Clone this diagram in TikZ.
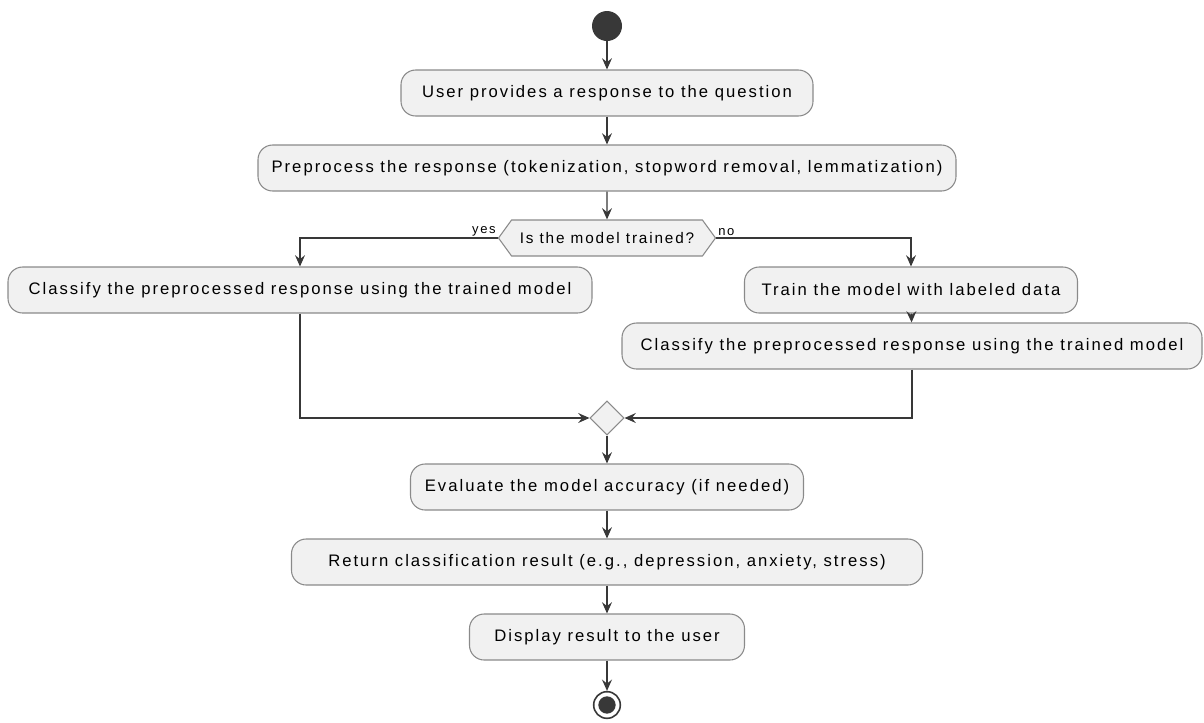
\documentclass[tikz,border=0pt]{standalone}
\usepackage{fontspec}
\setmainfont{Liberation Sans}[LetterSpace=12]
\usetikzlibrary{arrows.meta,shapes.symbols,shapes.geometric}
\definecolor{mfill}{HTML}{F1F1F1}
\definecolor{mline}{HTML}{383838}
\definecolor{mborder}{HTML}{8A8A8A}

\begin{document}
\begin{tikzpicture}[x=0.75pt,y=-0.75pt,
    act/.style={draw=mborder, fill=mfill, line width=0.8pt, rounded corners=11pt,
        minimum height=34.5pt, inner xsep=0pt, font=\fontsize{12.5}{14}\selectfont},
    boxw/.style={minimum width=#1*0.75pt},
    flow/.style={draw=mline, line width=0.9pt, -{Stealth[length=8.5pt,width=7.5pt,inset=3pt]}},
    lbl/.style={font=\fontsize{9.75}{11}\selectfont, inner sep=1.5pt}]
    \useasboundingbox (0,0) rectangle (1204,722);
    \node[circle, fill=mline, minimum size=22.5pt, inner sep=0pt] (start) at (607,26) {};
    \node[act, boxw=412] (provide) at (607,93) {User provides a response to the question};
    \node[act, boxw=698] (preproc) at (607,168) {Preprocess the response (tokenization, stopword removal, lemmatization)};
    \node[signal, signal to=east and west, signal pointer angle=108, draw=mborder, fill=mfill,
        line width=0.8pt, minimum width=162.75pt, minimum height=27pt, inner sep=0pt,
        font=\fontsize{11.5}{13}\selectfont] (trained) at (607,238) {Is the model trained?};
    \node[lbl, anchor=south east] (yes) at (trained.west) {yes};
    \node[lbl, anchor=south west] (no) at (trained.east) {no};
    \node[act, boxw=584] (classa) at (300,290) {Classify the preprocessed response using the trained model};
    \node[act, boxw=333] (train) at (911,290) {Train the model with labeled data};
    \node[act, boxw=580] (classb) at (912,346) {Classify the preprocessed response using the trained model};
    \node[diamond, draw=mborder, fill=mfill, line width=0.8pt, minimum size=25.5pt, inner sep=0pt] (merge) at (607,418) {};
    \node[act, boxw=393] (evaluate) at (607,487) {Evaluate the model accuracy (if needed)};
    \node[act, boxw=631] (result) at (607,562) {Return classification result (e.g., depression, anxiety, stress)};
    \node[act, boxw=275] (display) at (607,637) {Display result to the user};
    \node[circle, draw=mline, line width=1.2pt, fill=white, minimum size=20pt, inner sep=0pt] (stop) at (607,705) {};
    \node[circle, fill=mline, minimum size=13pt, inner sep=0pt] (stopdot) at (stop) {};
    \draw[flow] (start) -- (provide);
    \draw[flow] (provide) -- (preproc);
    \draw[flow] (preproc) -- (trained);
    \draw[flow] (trained.west) -| (classa);
    \draw[flow] (trained.east) -| (train);
    \draw[flow] (train) -- (classb);
    \draw[flow] (classa) |- (merge);
    \draw[flow] (classb) |- (merge);
    \draw[flow] (merge) -- (evaluate);
    \draw[flow] (evaluate) -- (result);
    \draw[flow] (result) -- (display);
    \draw[flow] (display) -- (stop);
\end{tikzpicture}
\end{document}
